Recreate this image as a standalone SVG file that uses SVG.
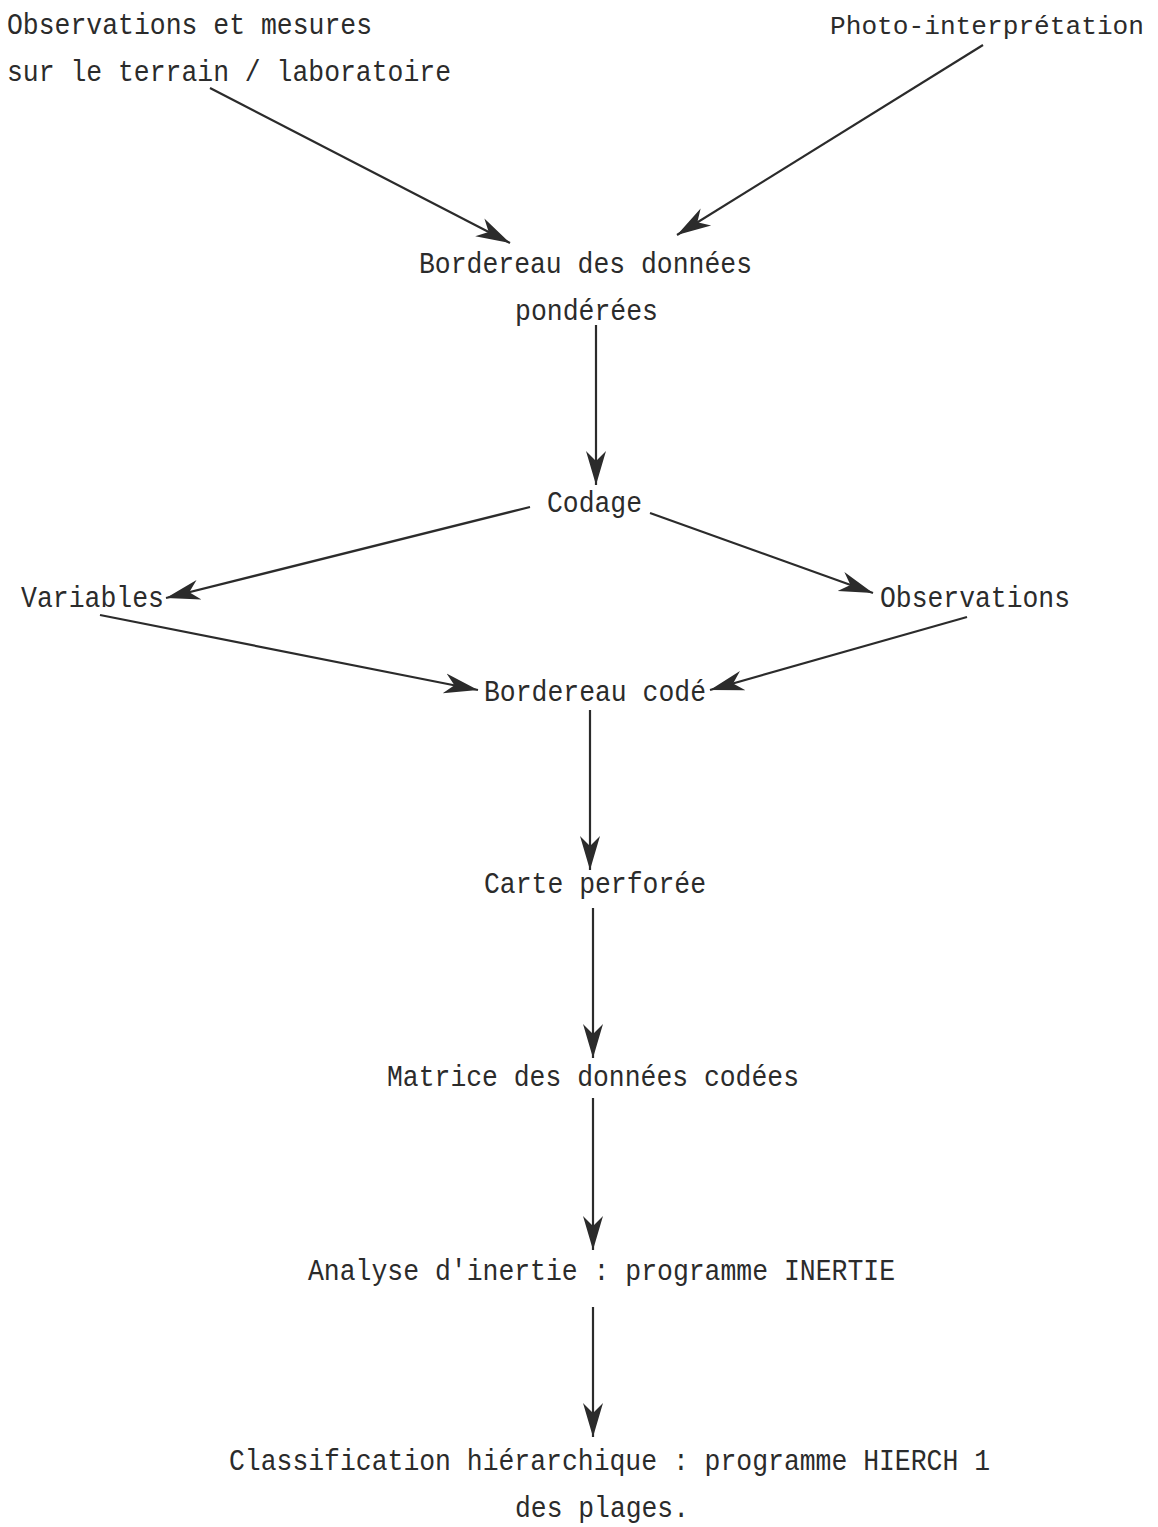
<svg xmlns="http://www.w3.org/2000/svg" width="1158" height="1527" viewBox="0 0 1158 1527">
<style>
text{font-family:"Liberation Mono","DejaVu Sans Mono",monospace;font-size:29px;fill:#2b2b2b}
.c{stroke:#2b2b2b;stroke-width:2.2;fill:none}
</style>
<defs>
<marker id="ah" markerUnits="userSpaceOnUse" viewBox="-34 -12 36 24" refX="0" refY="0" markerWidth="36" markerHeight="24" orient="auto">
<path d="M0,0 L-34,-10 L-24,0 L-34,10 Z" fill="#2b2b2b"/>
</marker>
</defs>
<rect width="1158" height="1527" fill="#ffffff"/>
<g id="connectors">
<line class="c" x1="210" y1="88" x2="510" y2="243" marker-end="url(#ah)"/>
<line class="c" x1="983" y1="45" x2="677" y2="235" marker-end="url(#ah)"/>
<line class="c" x1="596" y1="325" x2="596" y2="485" marker-end="url(#ah)"/>
<line class="c" x1="530" y1="507" x2="166" y2="598" marker-end="url(#ah)"/>
<line class="c" x1="650" y1="513" x2="873" y2="593" marker-end="url(#ah)"/>
<line class="c" x1="100" y1="615" x2="478" y2="690" marker-end="url(#ah)"/>
<line class="c" x1="967" y1="617" x2="710" y2="690" marker-end="url(#ah)"/>
<line class="c" x1="590" y1="710" x2="590" y2="870" marker-end="url(#ah)"/>
<line class="c" x1="593" y1="908" x2="593" y2="1058" marker-end="url(#ah)"/>
<line class="c" x1="593" y1="1098" x2="593" y2="1250" marker-end="url(#ah)"/>
<line class="c" x1="593" y1="1307" x2="593" y2="1437" marker-end="url(#ah)"/>
</g>
<g id="n-obs-terrain">
<text x="7" y="34" textLength="365" lengthAdjust="spacingAndGlyphs">Observations et mesures</text>
<text x="7" y="81" textLength="444" lengthAdjust="spacingAndGlyphs">sur le terrain / laboratoire</text>
</g>
<g id="n-photo">
<text x="830" y="34" style="font-size:26px" textLength="314" lengthAdjust="spacingAndGlyphs">Photo-interprétation</text>
</g>
<g id="n-bordereau-pond">
<text x="419" y="273" textLength="333" lengthAdjust="spacingAndGlyphs">Bordereau des données</text>
<text x="515" y="320" textLength="143" lengthAdjust="spacingAndGlyphs">pondérées</text>
</g>
<g id="n-codage">
<text x="547" y="512" textLength="95" lengthAdjust="spacingAndGlyphs">Codage</text>
</g>
<g id="n-variables">
<text x="21" y="607" textLength="143" lengthAdjust="spacingAndGlyphs">Variables</text>
</g>
<g id="n-observations">
<text x="880" y="607" textLength="190" lengthAdjust="spacingAndGlyphs">Observations</text>
</g>
<g id="n-bordereau-code">
<text x="484" y="701" textLength="222" lengthAdjust="spacingAndGlyphs">Bordereau codé</text>
</g>
<g id="n-carte">
<text x="484" y="893" textLength="222" lengthAdjust="spacingAndGlyphs">Carte perforée</text>
</g>
<g id="n-matrice">
<text x="387" y="1086" textLength="412" lengthAdjust="spacingAndGlyphs">Matrice des données codées</text>
</g>
<g id="n-inertie">
<text x="308" y="1280" textLength="587" lengthAdjust="spacingAndGlyphs">Analyse d'inertie : programme INERTIE</text>
</g>
<g id="n-classif">
<text x="229" y="1470" textLength="761" lengthAdjust="spacingAndGlyphs">Classification hiérarchique : programme HIERCH 1</text>
<text x="515" y="1517" textLength="174" lengthAdjust="spacingAndGlyphs">des plages.</text>
</g>
</svg>
